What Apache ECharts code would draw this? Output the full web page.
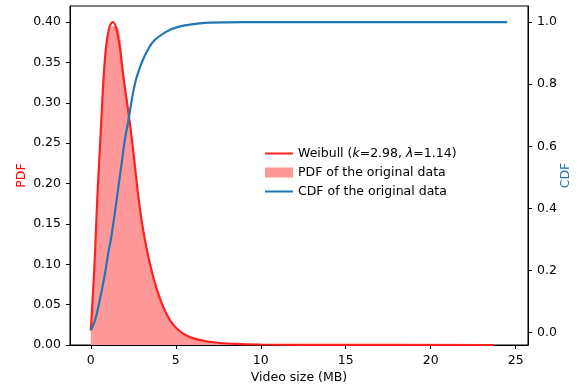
<!DOCTYPE html>
<html>
<head>
<meta charset="utf-8">
<script src="https://cdn.jsdelivr.net/npm/echarts@6/dist/echarts.min.js"></script>
<style>
  html, body { margin: 0; padding: 0; background: #fff; }
  #chart { width: 579px; height: 387px; }
</style>
</head>
<body>
<div id="chart"></div>
<script>
// values
const weibullX = [0, 0.1, 0.2, 0.3, 0.4, 0.59, 0.75, 0.9, 1.05, 1.18, 1.31, 1.5, 1.7, 1.9, 2.2, 2.4, 2.5, 2.9, 3.3, 3.9, 4.65, 5.6, 7, 8.5, 10, 15, 23.7];
const weibullY = [0.018, 0.055, 0.092, 0.14, 0.19, 0.266, 0.33, 0.37, 0.39, 0.398, 0.4, 0.392, 0.37, 0.335, 0.29, 0.258, 0.24, 0.167, 0.118, 0.068, 0.031, 0.012, 0.004, 0.0015, 0.0006, 0.0001, 0];

const pdfX = [0, 0.2, 0.4, 0.55, 0.75, 0.9, 1.1, 1.3, 1.5, 1.7, 1.9, 2.2, 2.5, 2.9, 3.3, 3.9, 4.7, 5.6, 7, 10, 15, 23.7];
const pdfY = [0.018, 0.08, 0.165, 0.245, 0.33, 0.37, 0.39, 0.395, 0.395, 0.385, 0.345, 0.295, 0.24, 0.172, 0.122, 0.07, 0.032, 0.013, 0.004, 0.001, 0.0003, 0.0001];

const cdfX = [0, 0.25, 0.53, 0.8, 1.06, 1.18, 1.4, 1.6, 1.8, 2.0, 2.2, 2.59, 3.0, 3.4, 3.76, 4.45, 5.0, 5.63, 7, 9, 24.5];
const cdfY = [0.008, 0.04, 0.106, 0.18, 0.267, 0.3, 0.38, 0.46, 0.54, 0.62, 0.68, 0.8, 0.87, 0.915, 0.942, 0.969, 0.982, 0.99, 0.998, 1.0, 1.0];

const xTicks = [0, 5, 10, 15, 20, 25];
const pdfTicks = [0, 0.05, 0.1, 0.15, 0.2, 0.25, 0.3, 0.35, 0.4];
const cdfTicks = [0, 0.2, 0.4, 0.6, 0.8, 1.0];

const red = '#ff2020';
const pink = '#ff9999';
const blue = '#1f77b4';
const font = 'DejaVu Sans';
const fs = 12.5;
// thin bar used as the legend handle of the two lines
const lineIcon = 'path://M0,4L28,4L28,6L0,6Z';

const zip = (xs, ys) => xs.map((x, i) => [x, ys[i]]);

const chart = echarts.init(document.getElementById('chart'), null, { renderer: 'canvas' });

const axisCommon = {
    axisLine: { show: true, onZero: false, lineStyle: { color: '#000', width: 1 } },
    axisTick: { show: true, inside: false, length: 4, lineStyle: { color: '#000', width: 1 } },
    splitLine: { show: false },
    nameMoveOverlap: false
};

chart.setOption({
    animation: false,
    backgroundColor: '#fff',
    grid: {
        left: 70, right: 51, top: 6, bottom: 42,
        containLabel: false,
        outerBoundsMode: 'none',
        show: true, borderColor: '#000', borderWidth: 1, backgroundColor: 'transparent'
    },
    legend: {
        orient: 'vertical',
        left: 265,
        top: 147,
        padding: 0,
        itemWidth: 28,
        itemHeight: 10,
        itemGap: 6,
        textStyle: {
            fontFamily: font, fontSize: fs, color: '#000',
            rich: {
                n: { fontFamily: font, fontSize: fs, color: '#000' },
                i: { fontFamily: font, fontSize: fs, fontStyle: 'italic', color: '#000' }
            }
        },
        formatter: (name) => {
            if (name.indexOf('Weibull') === 0) {
                return '{n|Weibull (}{i|k}{n|=2.98, }{i|λ}{n|=1.14)}';
            }
            return name;
        },
        data: [
            { name: 'Weibull (k=2.98, λ=1.14)', icon: lineIcon, itemStyle: { color: red } },
            { name: 'PDF of the original data', icon: 'rect', itemStyle: { color: pink } },
            { name: 'CDF of the original data', icon: lineIcon, itemStyle: { color: blue } }
        ]
    },
    xAxis: {
        type: 'value',
        min: -1.225,
        max: 25.725,
        ...axisCommon,
        axisTick: { ...axisCommon.axisTick, customValues: xTicks },
        axisLabel: {
            customValues: xTicks, margin: 9,
            fontFamily: font, fontSize: fs, color: '#000'
        },
        name: 'Video size (MB)',
        nameLocation: 'middle',
        nameGap: 26,
        nameTextStyle: { fontFamily: font, fontSize: fs, color: '#000' }
    },
    yAxis: [
        {
            type: 'value',
            position: 'left',
            min: 0,
            max: 0.42,
            ...axisCommon,
            axisTick: { ...axisCommon.axisTick, customValues: pdfTicks },
            axisLabel: {
                customValues: pdfTicks, margin: 9,
                fontFamily: font, fontSize: fs, color: '#000',
                formatter: (v) => v.toFixed(2)
            },
            name: 'PDF',
            nameLocation: 'middle',
            nameRotate: 90,
            nameGap: 42,
            nameTextStyle: { fontFamily: font, fontSize: fs, color: '#ff0000' }
        },
        {
            type: 'value',
            position: 'right',
            min: -0.0396,
            max: 1.0516,
            ...axisCommon,
            axisTick: { ...axisCommon.axisTick, customValues: cdfTicks },
            axisLabel: {
                customValues: cdfTicks, margin: 9,
                fontFamily: font, fontSize: fs, color: '#000',
                formatter: (v) => v.toFixed(1)
            },
            name: 'CDF',
            nameLocation: 'middle',
            nameRotate: 90,
            nameGap: 31,
            nameTextStyle: { fontFamily: font, fontSize: fs, color: blue }
        }
    ],
    series: [
        {
            name: 'PDF of the original data',
            type: 'line',
            yAxisIndex: 0,
            data: zip(pdfX, pdfY),
            smooth: 0.4,
            showSymbol: false,
            symbol: 'none',
            lineStyle: { width: 0, color: pink },
            itemStyle: { color: pink },
            areaStyle: { color: pink, opacity: 1, origin: 'start' },
            z: 1
        },
        {
            name: 'Weibull (k=2.98, λ=1.14)',
            type: 'line',
            yAxisIndex: 0,
            data: zip(weibullX, weibullY),
            smooth: 0.4,
            showSymbol: false,
            symbol: 'none',
            lineStyle: { width: 2.2, color: red },
            itemStyle: { color: red },
            z: 2
        },
        {
            name: 'CDF of the original data',
            type: 'line',
            yAxisIndex: 1,
            data: zip(cdfX, cdfY),
            smooth: 0.4,
            showSymbol: false,
            symbol: 'none',
            lineStyle: { width: 2.2, color: blue },
            itemStyle: { color: blue },
            z: 3
        }
    ]
});
</script>
</body>
</html>
